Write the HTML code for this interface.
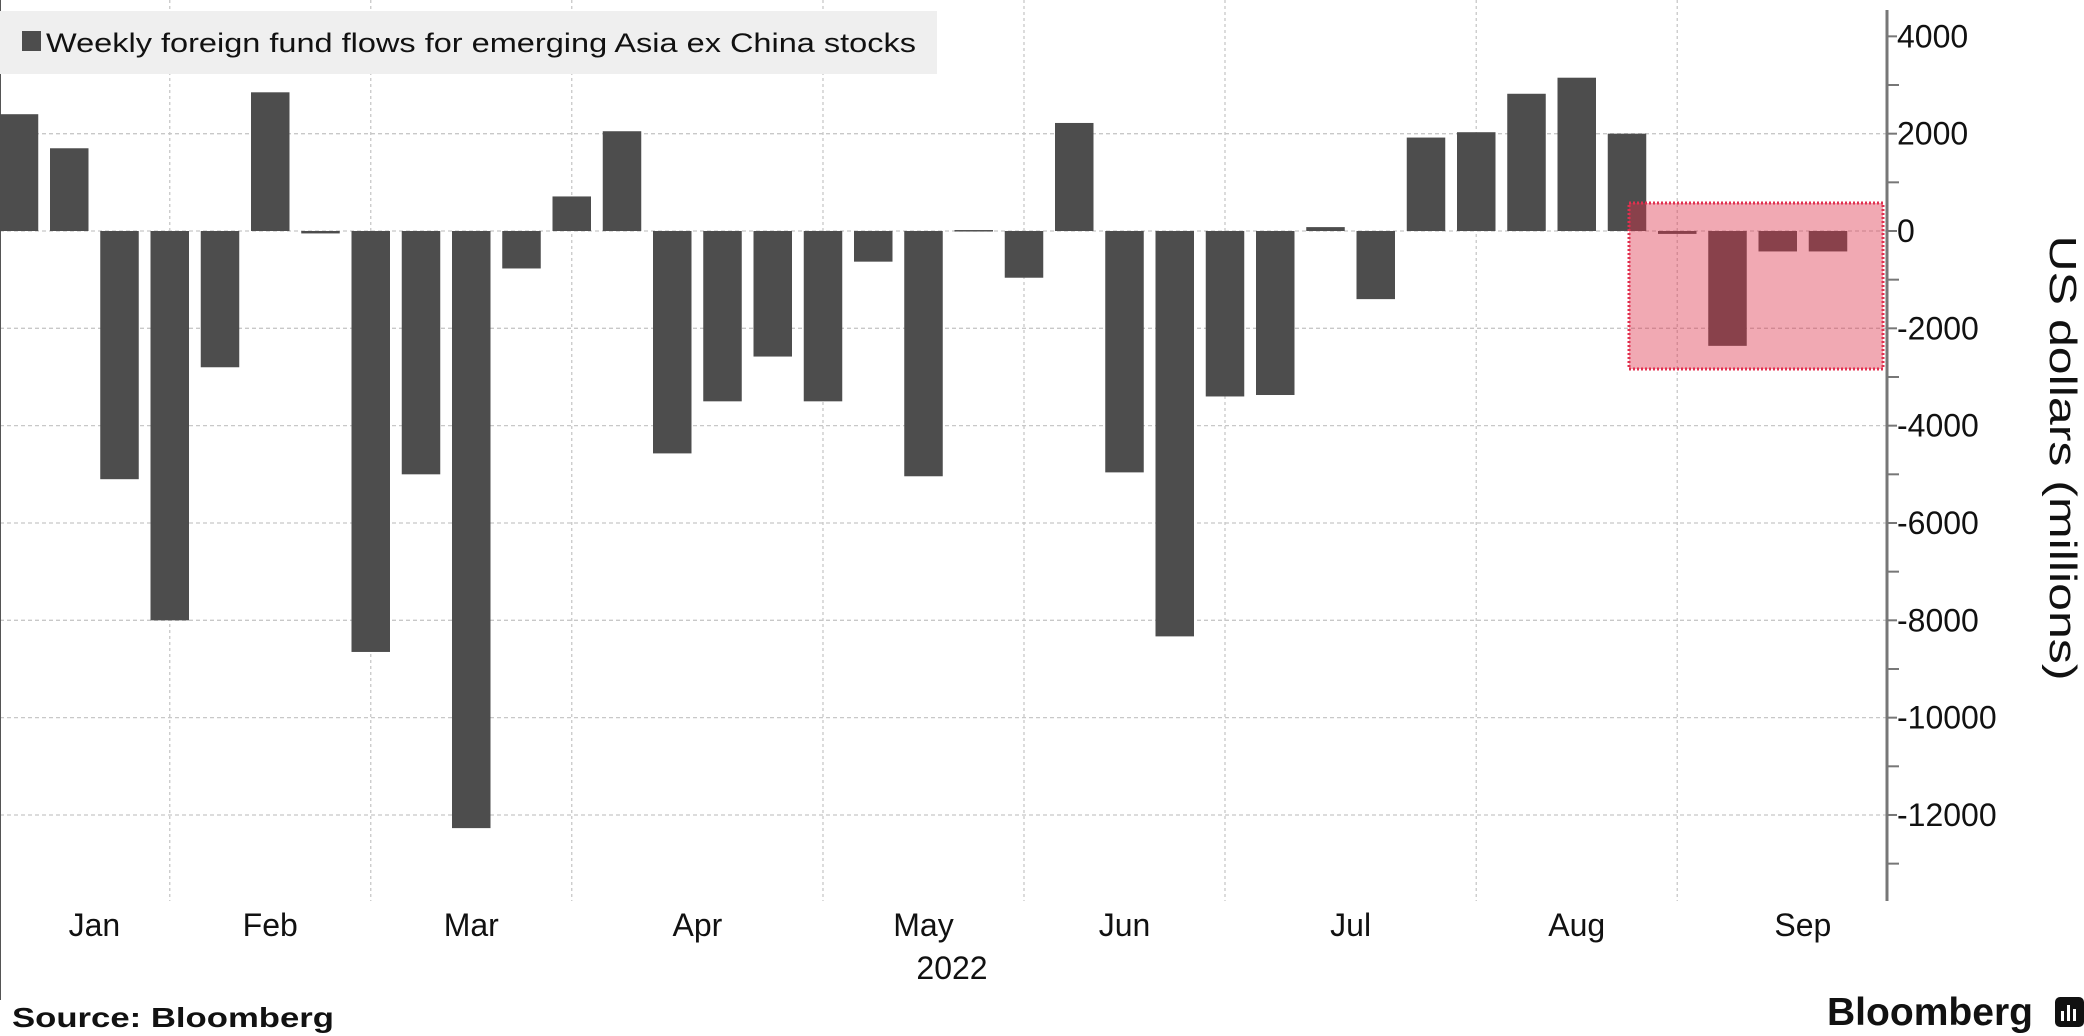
<!DOCTYPE html>
<html><head><meta charset="utf-8"><style>
html,body{margin:0;padding:0;background:#fff;}
body{width:2084px;height:1036px;overflow:hidden;position:relative;font-family:"Liberation Sans",sans-serif;}
svg{position:absolute;left:0;top:0;}
</style></head><body>
<svg id="chart" width="2084" height="1036" viewBox="0 0 2084 1036" xmlns="http://www.w3.org/2000/svg">
<g id="grid"></g>
<g id="bars"></g>
<rect x="1629" y="203" width="254" height="166" fill="rgba(222,51,75,0.42)" stroke="#e0304f" stroke-width="3" stroke-dasharray="2,2"/>
<g id="axis"></g>
<g id="xlabels"></g>
<g>
<rect x="0" y="11" width="937" height="63" fill="#efefef"/>
<rect x="22" y="31" width="19" height="20" fill="#4d4d4d"/>
<text x="46" y="52" font-size="27" fill="#111" textLength="870" lengthAdjust="spacingAndGlyphs">Weekly foreign fund flows for emerging Asia ex China stocks</text>
</g>
<text transform="translate(2050,458) rotate(90)" text-anchor="middle" font-size="38" fill="#111" textLength="445" lengthAdjust="spacingAndGlyphs">US dollars (millions)</text>
<text x="12" y="1027" font-size="28" font-weight="bold" fill="#111" textLength="322" lengthAdjust="spacingAndGlyphs">Source: Bloomberg</text>
<text x="1827" y="1025" font-size="39" font-weight="bold" fill="#111" textLength="206" lengthAdjust="spacingAndGlyphs">Bloomberg</text>
<g><rect x="2055" y="997" width="29" height="30" rx="5" fill="#111"/><rect x="2061" y="1011" width="3" height="10" fill="#fff"/><rect x="2067" y="1005" width="3" height="16" fill="#fff"/><rect x="2073" y="1009" width="3" height="12" fill="#fff"/></g>
</svg>
<script>
const values=[2400,1700,-5100,-8000,-2800,2850,-50,-8650,-5000,-12270,-770,710,2050,-4570,-3500,-2580,-3500,-630,-5040,20,-960,2220,-4960,-8330,-3400,-3370,80,-1400,1920,2030,2820,3150,2000,-60,-2360,-420,-420];
const yTicks=[4000,2000,0,-2000,-4000,-6000,-8000,-10000,-12000];
const yTickLabels=["4000","2000","0","-2000","-4000","-6000","-8000","-10000","-12000"];
const months=["Jan","Feb","Mar","Apr","May","Jun","Jul","Aug","Sep"];
const monthPos=[1.5,5,9,13.5,18,22,26.5,31,35.5];
const monthGrid=[3,7,11,16,20,24,29,33];
const yearLabel="2022";
const NS="http://www.w3.org/2000/svg";
const AX=1887;
function y(v){return 231-v*(97.33/2000);}
function xc(i){return 19+i*50.25;}
function mk(tag,attrs,parent){const e=document.createElementNS(NS,tag);for(const k in attrs)e.setAttribute(k,attrs[k]);parent.appendChild(e);return e;}
const grid=document.getElementById('grid'),bars=document.getElementById('bars'),axis=document.getElementById('axis'),xl=document.getElementById('xlabels');
yTicks.forEach(t=>{if(t===4000)return;const l=mk('line',{x1:0,x2:AX,y1:y(t),y2:y(t),stroke:'#c8c8c8','stroke-width':1.3,'stroke-dasharray':'4,3'},grid);

});
monthGrid.forEach(g=>{const x=xc(g);const l=mk('line',{x1:x,x2:x,y1:0,y2:901,stroke:'#c8c8c8','stroke-width':1.3,'stroke-dasharray':'3,3'},grid);

});
mk('line',{x1:0.5,x2:0.5,y1:0,y2:1000,stroke:'#555','stroke-width':1},grid);
values.forEach((v,i)=>{const top=Math.min(y(v),y(0)),h=Math.max(Math.abs(y(v)-y(0)),1.5);
const r=mk('rect',{x:xc(i)-19.25,y:top,width:38.5,height:h,fill:'#4d4d4d'},bars);

});
mk('line',{x1:AX,x2:AX,y1:10,y2:901,stroke:'#777','stroke-width':3},axis);
for(let v=4000;v>=-13000;v-=1000){const major=v%2000===0;mk('line',{x1:AX,x2:AX+(major?10:12),y1:y(v),y2:y(v),stroke:'#777','stroke-width':2},axis);}
yTicks.forEach((t,i)=>{const tx=mk('text',{x:AX+10,y:y(t)+11,'font-size':32,fill:'#111'},axis);tx.textContent=yTickLabels[i];

});
months.forEach((m,i)=>{const x=(xc(Math.floor(monthPos[i]))*(1-monthPos[i]%1)+xc(Math.ceil(monthPos[i]))*(monthPos[i]%1));
const tx=mk('text',{x:x,y:936,'text-anchor':'middle','font-size':32,fill:'#111'},xl);tx.textContent=m;

});
const yr=mk('text',{x:952,y:979,'text-anchor':'middle','font-size':32,fill:'#111'},xl);yr.textContent=yearLabel;


</script>
</body></html>
